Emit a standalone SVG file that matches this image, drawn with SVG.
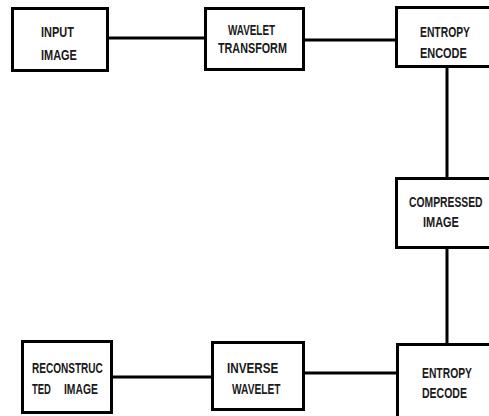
<svg xmlns="http://www.w3.org/2000/svg" width="489" height="416" viewBox="0 0 489 416">
<style>
.box{fill:#fff;stroke:#000;stroke-width:3}
.ln{stroke:#000;stroke-width:3;fill:none}
text{font-family:"Liberation Sans",Arial,sans-serif;font-weight:bold;font-size:15px;fill:#1a1a1a}
</style>
<rect width="489" height="416" fill="#fff"/>
<g id="connectors">
<line class="ln" x1="108" y1="38" x2="205" y2="38"/>
<line class="ln" x1="304" y1="40" x2="396" y2="40"/>
<line class="ln" x1="447" y1="66" x2="447" y2="178"/>
<line class="ln" x1="447" y1="247" x2="447" y2="344"/>
<line class="ln" x1="111" y1="377" x2="213" y2="377"/>
<line class="ln" x1="303" y1="373" x2="398" y2="373"/>
</g>
<g id="input">
<rect class="box" x="12.5" y="8.5" width="95" height="62"/>
<text transform="translate(41 37) scale(0.73 1)">INPUT</text>
<text transform="translate(41 60) scale(0.73 1)">IMAGE</text>
</g>
<g id="wavelet">
<rect class="box" x="205.5" y="8.5" width="98" height="61"/>
<text transform="translate(228 35) scale(0.66 1)">WAVELET</text>
<text transform="translate(218 53) scale(0.72 1)">TRANSFORM</text>
</g>
<g id="encode">
<rect class="box" x="396.5" y="7.5" width="95" height="59"/>
<text transform="translate(420 37) scale(0.69 1)">ENTROPY</text>
<text transform="translate(420 58) scale(0.73 1)">ENCODE</text>
</g>
<g id="compressed">
<rect class="box" x="396.5" y="178.5" width="95" height="69"/>
<text transform="translate(409 207) scale(0.69 1)">COMPRESSED</text>
<text transform="translate(423 227) scale(0.73 1)">IMAGE</text>
</g>
<g id="reconstructed">
<rect class="box" x="22.5" y="341.5" width="89" height="71"/>
<text transform="translate(32 373) scale(0.67 1)">RECONSTRUC</text>
<text transform="translate(32 394) scale(0.63 1)">TED</text>
<text transform="translate(64 394) scale(0.69 1)">IMAGE</text>
</g>
<g id="inverse">
<rect class="box" x="212.5" y="342.5" width="91" height="67"/>
<text transform="translate(227 373) scale(0.78 1)">INVERSE</text>
<text transform="translate(232 394) scale(0.68 1)">WAVELET</text>
</g>
<g id="decode">
<rect class="box" x="397.5" y="344.5" width="95" height="80"/>
<text transform="translate(422 378) scale(0.69 1)">ENTROPY</text>
<text transform="translate(422 398) scale(0.70 1)">DECODE</text>
</g>
</svg>
